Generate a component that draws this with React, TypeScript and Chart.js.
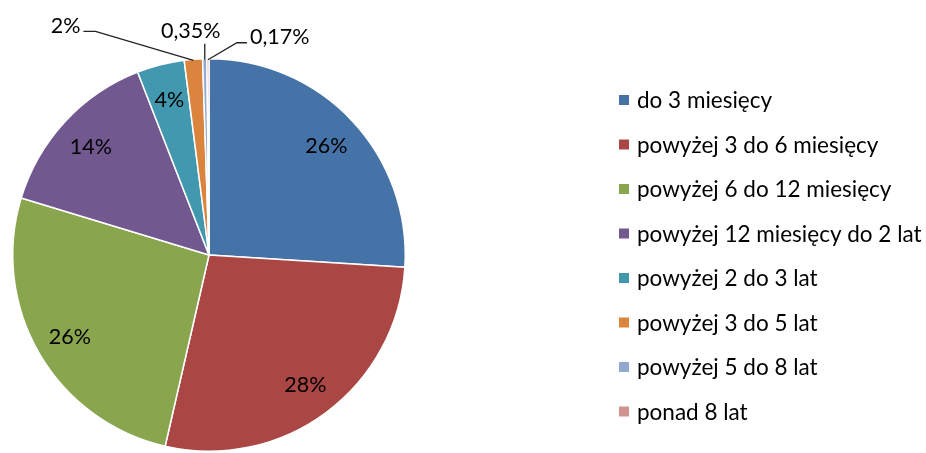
import React, { useEffect, useRef } from "react";
import { Chart, registerables } from "chart.js";

Chart.register(...registerables);

const categories = [
  "do 3 miesięcy",
  "powyżej 3 do 6 miesięcy",
  "powyżej 6 do 12 miesięcy",
  "powyżej 12 miesięcy do 2 lat",
  "powyżej 2 do 3 lat",
  "powyżej 3 do 5 lat",
  "powyżej 5 do 8 lat",
  "ponad 8 lat",
];
const shares = [26, 27.6, 26.1, 14.4, 3.9, 1.5, 0.35, 0.17];
const shareLabels = ["26%", "28%", "26%", "14%", "4%", "2%", "0,35%", "0,17%"];
const colors = ["#4572A7", "#AA4643", "#89A54E", "#71588F", "#4198AF", "#DB843D", "#93A9CF", "#D19392"];

const LABEL_FONT = "21.5px Lato";
const LEGEND_FONT = "22.5px Lato";

// leader-line label styles for the tiny slices (offsets from slice's outer mid-point)
const outside: Record<number, { path: [number, number][]; tx: number; ty: number; align: CanvasTextAlign }> = {
  5: { path: [[-98, -29], [-110, -29]], tx: -113, ty: -27, align: "right" },
  6: { path: [[0, -16]], tx: -14, ty: -22, align: "center" },
  7: { path: [[29, -17], [39, -17]], tx: 42, ty: -16, align: "left" },
};

const pieLabels = {
  id: "pieLabels",
  afterDatasetsDraw(chart: any) {
    const ctx = chart.ctx as CanvasRenderingContext2D;
    const meta = chart.getDatasetMeta(0);
    ctx.save();
    ctx.font = LABEL_FONT;
    ctx.fillStyle = "#000";
    meta.data.forEach((arc: any, i: number) => {
      const { x, y, startAngle, endAngle, outerRadius } = arc.getProps(
        ["x", "y", "startAngle", "endAngle", "outerRadius"],
        true
      );
      const mid = (startAngle + endAngle) / 2;
      const o = outside[i];
      if (!o) {
        const r = outerRadius * 0.82;
        ctx.textAlign = "center";
        ctx.textBaseline = "alphabetic";
        ctx.fillText(shareLabels[i], x + Math.cos(mid) * r, y + Math.sin(mid) * r + 8);
      } else {
        const px = x + Math.cos(mid) * (outerRadius - 1);
        const py = y + Math.sin(mid) * (outerRadius - 1);
        ctx.beginPath();
        ctx.strokeStyle = "#222";
        ctx.lineWidth = 1.3;
        ctx.moveTo(px, py);
        o.path.forEach(([dx, dy]) => ctx.lineTo(px + dx, py + dy));
        ctx.stroke();
        ctx.textAlign = o.align;
        ctx.textBaseline = "alphabetic";
        ctx.fillText(shareLabels[i], px + o.tx, py + o.ty);
      }
    });
    // legend
    ctx.font = LEGEND_FONT;
    const lx = 619;
    const ly0 = 100;
    const step = 44.5;
    categories.forEach((c, i) => {
      const cy = ly0 + i * step;
      ctx.fillStyle = colors[i];
      ctx.fillRect(lx, cy - 5, 10, 10);
      ctx.fillStyle = "#000";
      ctx.textAlign = "left";
      ctx.textBaseline = "alphabetic";
      ctx.fillText(c, lx + 18, cy + 8);
    });
    ctx.restore();
  },
};

export default function App() {
  const ref = useRef<HTMLCanvasElement>(null);
  useEffect(() => {
    if (!ref.current) return;
    const chart = new Chart(ref.current, {
      type: "pie",
      data: {
        labels: categories,
        datasets: [
          {
            data: shares,
            backgroundColor: colors,
            borderColor: "#ffffff",
            borderWidth: 1.5,
          },
        ],
      },
      options: {
        responsive: false,
        animation: false,
        layout: { padding: { left: 12, right: 520, top: 58, bottom: 1 } },
        plugins: { legend: { display: false }, tooltip: { enabled: false } },
      },
      plugins: [pieLabels],
    });
    return () => chart.destroy();
  }, []);
  return (
    <div style={{ position: "fixed", left: 0, top: 0, width: 926, height: 453, background: "#fff" }}>
      <canvas ref={ref} width={926} height={453} />
    </div>
  );
}
